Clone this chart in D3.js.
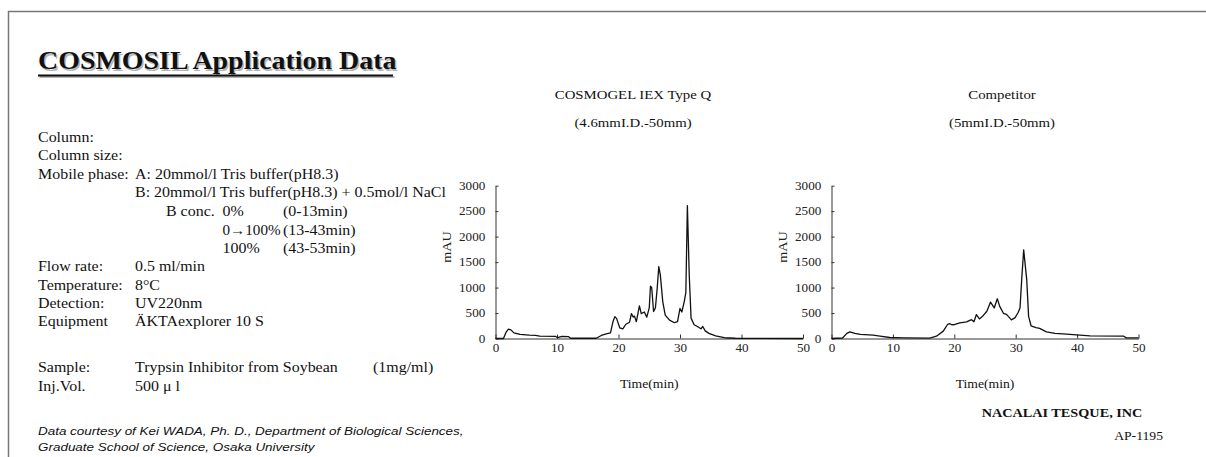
<!DOCTYPE html>
<html><head><meta charset="utf-8">
<script src="https://cdnjs.cloudflare.com/ajax/libs/d3/7.8.5/d3.min.js"></script>
<style>html,body{margin:0;padding:0;background:#fff;}svg{display:block;}</style>
</head><body><svg id="c" width="1206" height="457"></svg>
<script>
// ---- data ----
const xTicks = [0, 10, 20, 30, 40, 50];
const yTicks = [0, 500, 1000, 1500, 2000, 2500, 3000];
const chartTitles = ["COSMOGEL IEX Type Q", "Competitor"];
const chartSubtitles = ["(4.6mmI.D.-50mm)", "(5mmI.D.-50mm)"];
const cosmoTime = [0,1.3,1.7,2.1,2.5,3.0,4.0,5.5,6.5,7.2,9.8,10.1,10.8,11.9,12.2,16.4,17.2,18.0,18.7,19.1,19.4,19.7,20.2,20.7,21.2,21.8,22.1,22.4,22.6,22.9,23.4,23.7,24.2,24.6,25.0,25.2,25.4,25.7,26.0,26.3,26.55,26.8,27.2,27.6,28.3,29.1,29.6,30.0,30.3,30.7,30.95,31.2,31.5,31.8,32.3,32.9,33.4,33.7,34.1,34.7,35.8,37.2,39,41.2,50];
const cosmoMAU = [0,0,120,185,170,110,80,65,60,45,40,15,40,35,5,5,60,90,110,330,430,390,210,190,280,320,490,420,440,330,640,490,520,420,600,1030,1000,530,600,1000,1410,1250,720,460,360,310,330,590,520,730,900,2610,1250,400,270,230,190,235,150,100,50,15,5,3,0];
const compTime = [0,1.8,2.5,3.0,3.8,4.7,6.8,7.9,9.5,11.7,16.0,17.1,18.2,18.9,19.3,19.6,20.1,20.9,22.0,22.8,23.2,23.6,24.1,24.6,25.3,25.9,26.5,27.0,27.4,28.0,28.5,29.3,29.9,30.4,30.7,31.0,31.3,31.8,32.1,32.5,33.3,33.9,35.0,36.4,37.7,39.9,42.1,47.6,48.0,50];
const compMAU = [0,10,100,130,100,80,65,45,20,12,6,45,145,275,290,270,275,305,325,370,330,470,385,435,535,715,600,780,630,495,475,365,410,510,600,1200,1740,1150,435,250,215,200,130,100,90,72,50,45,13,13];
const conditionLabels = ["Column:", "Column size:", "Mobile phase:", "", "", "", "", "Flow rate:", "Temperature:", "Detection:", "Equipment", "Sample:", "Inj.Vol."];

const svg = d3.select("#c");
const SX = 1.14;
const SERIF = "'Liberation Serif','Times New Roman',serif";
const SANS = "'Liberation Sans',Arial,sans-serif";

function txt(x, y, s, o = {}) {
  return svg.append("text")
    .attr("transform", `translate(${x},${y}) scale(${SX},1)`)
    .attr("font-family", o.family || SERIF)
    .attr("font-size", o.size || 14)
    .attr("font-weight", o.weight || "normal")
    .attr("font-style", o.style || "normal")
    .attr("text-anchor", o.anchor || "start")
    .attr("fill", o.fill || "#111")
    .text(s);
}

// frame
svg.append("path").attr("d", "M8.5,457 V11.5 H1206").attr("fill", "none").attr("stroke", "#777").attr("stroke-width", 1.5);

// title with shadow + underline
txt(39.5, 70.5, "COSMOSIL Application Data", {size: 24.5, weight: "bold", fill: "#b5b5b5"});
svg.append("rect").attr("x", 39.5).attr("y", 76).attr("width", 355).attr("height", 2).attr("fill", "#b5b5b5");
txt(38, 69, "COSMOSIL Application Data", {size: 24.5, weight: "bold", fill: "#111"});
svg.append("rect").attr("x", 38).attr("y", 74.5).attr("width", 355).attr("height", 2).attr("fill", "#111");

// left condition block
const lineY = [141.5, 160, 178.5, 197, 215.5, 234.5, 253, 271, 289.5, 307.5, 326, 372, 390.5];
conditionLabels.forEach((l, i) => { if (l) txt(38, lineY[i], l); });
txt(135, lineY[2], "A: 20mmol/l Tris buffer(pH8.3)");
txt(135, lineY[3], "B: 20mmol/l Tris buffer(pH8.3) + 0.5mol/l NaCl");
txt(166, lineY[4], "B conc.");
txt(222.5, lineY[4], "0%");
txt(283, lineY[4], "(0-13min)");
txt(222.5, lineY[5], "0\u2192100%").attr("textLength", 51).attr("lengthAdjust", "spacingAndGlyphs");
txt(283, lineY[5], "(13-43min)");
txt(222.5, lineY[6], "100%");
txt(283, lineY[6], "(43-53min)");
txt(135, lineY[7], "0.5 ml/min");
txt(135, lineY[8], "8\u00b0C");
txt(135, lineY[9], "UV220nm");
txt(135, lineY[10], "\u00c4KTAexplorer 10 S");
txt(135, lineY[11], "Trypsin Inhibitor from Soybean");
txt(373, lineY[11], "(1mg/ml)");
txt(135, lineY[12], "500 \u03bc l");

txt(38, 435, "Data courtesy of Kei WADA, Ph. D., Department of Biological Sciences,", {family: SANS, style: "italic", size: 11.8});
txt(38, 451, "Graduate School of Science, Osaka University", {family: SANS, style: "italic", size: 11.8});

txt(1062, 417, "NACALAI TESQUE, INC", {size: 12.5, weight: "bold", anchor: "middle"});
txt(1163, 440, "AP-1195", {size: 12, anchor: "end"});

// charts
const charts = [
  {x0: 495.5, x1: 803, title: 633, time: cosmoTime, val: cosmoMAU},
  {x0: 831.5, x1: 1138.5, title: 1002, time: compTime, val: compMAU}
];
const yTop = 185.7, yBot = 338.5;
charts.forEach((c, i) => {
  const x = d3.scaleLinear().domain([0, 50]).range([c.x0, c.x1]);
  const y = d3.scaleLinear().domain([0, 3000]).range([yBot, yTop]);
  const g = svg.append("g");
  const ya = g.append("g").attr("transform", `translate(${c.x0},0)`)
    .call(d3.axisLeft(y).tickValues(yTicks).tickFormat(d3.format("d")).tickSize(-3).tickSizeOuter(0).tickPadding(9));
  const xa = g.append("g").attr("transform", `translate(0,${yBot})`)
    .call(d3.axisBottom(x).tickValues(xTicks).tickFormat(d3.format("d")).tickSize(-4).tickSizeOuter(0).tickPadding(5));
  [ya, xa].forEach(a => {
    a.select(".domain").attr("stroke", "#333");
    a.selectAll(".tick line").attr("stroke", "#333");
    a.selectAll("text").attr("font-family", SERIF).attr("font-size", 11.5).attr("fill", "#222")
      .attr("transform", `scale(${SX},1)`);
  });
  const line = d3.line().x(d => x(d[0])).y(d => y(d[1]));
  const pts = c.time.map((t, k) => [t, c.val[k]]);
  g.append("path").datum(pts).attr("d", line).attr("fill", "none").attr("stroke", "#111").attr("stroke-width", 1.3).attr("stroke-linejoin", "round");

  svg.append("text").attr("transform", `translate(${c.x0 - 45},247) rotate(-90) scale(${SX},1)`)
    .attr("font-family", SERIF).attr("font-size", 12.5).attr("text-anchor", "middle").attr("fill", "#222").text("mAU");
  txt((c.x0 + c.x1) / 2, 388, "Time(min)", {size: 12, anchor: "middle"});
  txt(c.title, 99, chartTitles[i], {size: 13, anchor: "middle"});
  txt(c.title, 127, chartSubtitles[i], {size: 13, anchor: "middle"});
});
</script></body></html>
